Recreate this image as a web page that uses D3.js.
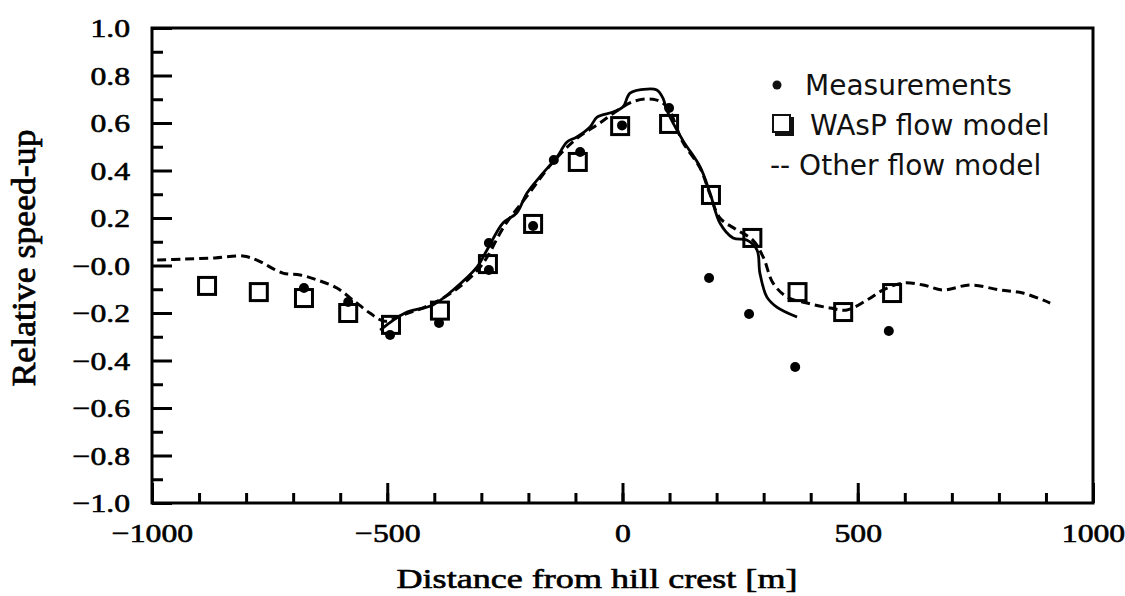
<!DOCTYPE html>
<html>
<head>
<meta charset="utf-8">
<script src="https://cdn.jsdelivr.net/npm/d3@7"></script>
<style>
  body { margin: 0; background: #fff; }
  svg { display: block; }
</style>
</head>
<body>
<div id="chart"></div>
<script>
// WAsP flow model (open squares)
var waspX = [-883, -773, -677, -583, -492, -388, -286, -190, -95, -5, 99, 188, 276, 372, 469, 573];
var waspY = [-0.086, -0.112, -0.137, -0.2, -0.25, -0.19, 0.006, 0.175, 0.436, 0.587, 0.596, 0.297, 0.116, -0.112, -0.196, -0.116];

// measurements (dots)
var measX = [-677, -583, -494, -390, -284, -284, -190, -146, -90, -1, 99, 184, 269, 367, 566];
var measY = [-0.095, -0.154, -0.293, -0.242, -0.019, 0.095, 0.166, 0.444, 0.478, 0.59, 0.663, -0.053, -0.204, -0.427, -0.276];

// solid curve (unlabelled model)
var solidX = [-515, -462, -403, -360, -309, -288, -254, -225, -203, -169, -139, -118, -97, -69, -54, -20, 1, 16, 52, 73, 86, 94, 128, 165, 186, 207, 235, 264, 286, 292, 307, 328, 371];
var solidY = [-0.272, -0.2, -0.166, -0.103, -0.006, 0.065, 0.179, 0.221, 0.305, 0.389, 0.457, 0.52, 0.541, 0.583, 0.625, 0.646, 0.667, 0.726, 0.743, 0.739, 0.705, 0.655, 0.528, 0.415, 0.305, 0.179, 0.116, 0.107, 0.065, -0.032, -0.133, -0.175, -0.217];

// dashed curve (other flow model)
var dashX = [-989, -930, -866, -807, -777, -722, -685, -649, -607, -573, -537, -505, -470, -420, -360, -300, -250, -200, -150, -100, -48, -20, 22, 65, 94, 128, 165, 186, 207, 243, 277, 299, 320, 350, 392, 441, 477, 520, 554, 596, 639, 681, 739, 802, 851, 909];
var dashY = [0.023, 0.027, 0.032, 0.04, 0.023, -0.032, -0.04, -0.061, -0.095, -0.145, -0.2, -0.235, -0.21, -0.175, -0.11, 0.0, 0.17, 0.3, 0.43, 0.53, 0.6, 0.64, 0.69, 0.7, 0.67, 0.52, 0.41, 0.3, 0.2, 0.15, 0.107, 0.036, -0.074, -0.133, -0.158, -0.179, -0.187, -0.145, -0.103, -0.074, -0.082, -0.103, -0.082, -0.103, -0.116, -0.158];

var xTicks = [-1000, -500, 0, 500, 1000];
var xTickLabels = ["\u22121000", "\u2212500", "0", "500", "1000"];
var yTicks = [1.0, 0.8, 0.6, 0.4, 0.2, 0.0, -0.2, -0.4, -0.6, -0.8, -1.0];
var yTickLabels = ["1.0", "0.8", "0.6", "0.4", "0.2", "\u22120.0", "\u22120.2", "\u22120.4", "\u22120.6", "\u22120.8", "\u22121.0"];

var legendLabels = ["Measurements", "WAsP flow model", "-- Other flow model"];

var margin = { top: 28, right: 32, bottom: 93, left: 152 },
    width = 1125 - margin.left - margin.right,
    height = 596 - margin.top - margin.bottom;

var serif = "'Liberation Serif', 'Times New Roman', serif";
var stretch = 1.22; // figure is stretched horizontally

var root = d3.select("#chart")
    .append("svg")
    .attr("width", 1125)
    .attr("height", 596);

var svg = root.append("g")
    .attr("transform", "translate(" + margin.left + "," + margin.top + ")");

var x = d3.scaleLinear().domain([-1000, 1000]).range([0, width]);
var y = d3.scaleLinear().domain([-1, 1]).range([height, 0]);

// minor ticks
svg.append("g")
    .attr("transform", "translate(0," + height + ")")
    .call(d3.axisBottom(x).tickValues(d3.range(-900, 1000, 100)).tickSize(-10).tickFormat(""))
    .call((g) => g.select(".domain").remove());
svg.append("g")
    .call(d3.axisLeft(y).tickValues(d3.range(-9, 10, 2).map((v) => v / 10)).tickSize(-11).tickFormat(""))
    .call((g) => g.select(".domain").remove());

// major ticks with labels
var xAxis = svg.append("g")
    .attr("transform", "translate(0," + height + ")")
    .call(d3.axisBottom(x).tickValues(xTicks).tickSize(-20)
        .tickFormat((d, i) => xTickLabels[i]))
    .call((g) => g.select(".domain").remove());
xAxis.selectAll("text")
    .attr("y", 39)
    .attr("dy", null)
    .attr("transform", "scale(" + stretch + ",1)");

var yAxis = svg.append("g")
    .call(d3.axisLeft(y).tickValues(yTicks).tickSize(-20)
        .tickFormat((d, i) => yTickLabels[i]))
    .call((g) => g.select(".domain").remove());
yAxis.selectAll("text")
    .attr("x", -18)
    .attr("dy", "0.33em")
    .attr("transform", "scale(" + stretch + ",1)");

svg.selectAll(".tick text")
    .style("font-family", serif)
    .style("font-size", "26px")
    .style("fill", "#000")
    .style("stroke", "#000")
    .style("stroke-width", "0.6px");

svg.selectAll(".tick line")
    .attr("stroke", "#000")
    .attr("stroke-width", 3);

// frame
svg.append("rect")
    .attr("x", 0)
    .attr("y", 0)
    .attr("width", width)
    .attr("height", height)
    .attr("fill", "none")
    .attr("stroke", "#000")
    .attr("stroke-width", 3);

// axis titles
svg.append("text")
    .attr("x", 597 - margin.left)
    .attr("y", height + 85)
    .attr("text-anchor", "middle")
    .attr("textLength", 401)
    .attr("lengthAdjust", "spacingAndGlyphs")
    .style("font-family", serif)
    .style("font-size", "27px")
    .style("stroke", "#000")
    .style("stroke-width", "0.6px")
    .text("Distance from hill crest [m]");

svg.append("text")
    .attr("transform", "translate(" + (35 - margin.left) + "," + (258 - margin.top) + ") scale(" + stretch + ",1) rotate(-90)")
    .attr("text-anchor", "middle")
    .attr("textLength", 257)
    .attr("lengthAdjust", "spacingAndGlyphs")
    .style("font-family", serif)
    .style("font-size", "28px")
    .style("stroke", "#000")
    .style("stroke-width", "0.6px")
    .text("Relative speed-up");

var solid = solidX.map((v, i) => ({ x: v, y: solidY[i] }));
var dashed = dashX.map((v, i) => ({ x: v, y: dashY[i] }));
var line = d3.line()
    .curve(d3.curveCatmullRom.alpha(0.5))
    .x((d) => x(d.x))
    .y((d) => y(d.y));

svg.append("path")
    .datum(dashed)
    .attr("fill", "none")
    .attr("stroke", "#000")
    .attr("stroke-width", 3)
    .attr("stroke-dasharray", "9,5")
    .attr("d", line);

svg.append("path")
    .datum(solid)
    .attr("fill", "none")
    .attr("stroke", "#000")
    .attr("stroke-width", 2.8)
    .attr("d", line);

var size = 17;
svg.selectAll(".wasp")
    .data(waspX)
    .enter()
    .append("rect")
    .attr("class", "wasp")
    .attr("x", (d) => x(d) - size / 2)
    .attr("y", (d, i) => y(waspY[i]) - size / 2)
    .attr("width", size)
    .attr("height", size)
    .attr("fill", "none")
    .attr("stroke", "#000")
    .attr("stroke-width", 3);

svg.selectAll(".meas")
    .data(measX)
    .enter()
    .append("circle")
    .attr("class", "meas")
    .attr("cx", (d) => x(d))
    .attr("cy", (d, i) => y(measY[i]))
    .attr("r", 5)
    .attr("fill", "#000");

// legend
var lg = root.append("g");
lg.append("circle")
    .attr("cx", 777)
    .attr("cy", 85)
    .attr("r", 4.5)
    .attr("fill", "#111");
lg.append("rect")
    .attr("x", 775).attr("y", 117).attr("width", 19).attr("height", 19)
    .attr("fill", "#111");
lg.append("rect")
    .attr("x", 773).attr("y", 115).attr("width", 17).attr("height", 17)
    .attr("fill", "#fff").attr("stroke", "#111").attr("stroke-width", 2);

lg.selectAll(".legend-label")
    .data(legendLabels)
    .enter()
    .append("text")
    .attr("class", "legend-label")
    .attr("x", (d, i) => [805, 810, 770][i])
    .attr("y", (d, i) => 95 + i * 40)
    .style("font-family", "'DejaVu Sans', Verdana, sans-serif")
    .style("font-size", "28px")
    .style("fill", "#111")
    .text((d) => d);
</script>
</body>
</html>
